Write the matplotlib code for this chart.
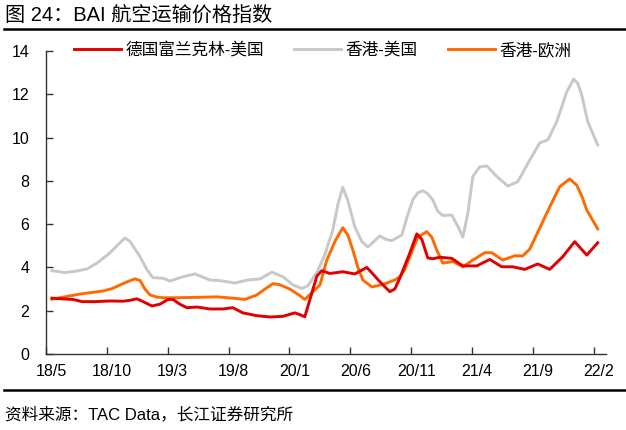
import matplotlib
matplotlib.use("Agg")
import matplotlib.pyplot as plt
import matplotlib.transforms as mtransforms
from matplotlib.lines import Line2D

plt.rcParams['font.family'] = ['Liberation Sans', 'Noto Sans CJK SC', 'DejaVu Sans']

# x: months since 2018-05
tick_labels = ['18/5', '18/10', '19/3', '19/8', '20/1', '20/6', '20/11', '21/4', '21/9', '22/2']
tick_months = [0, 5, 10, 15, 20, 25, 30, 35, 40, 45]

series_names = ['德国富兰克林-美国', '香港-美国', '香港-欧洲']

red_x = [0.49, 1.31, 2.22, 2.96, 4.02, 5.25, 6.32, 6.90, 7.47, 8.05, 8.70, 9.36, 10.02, 10.43,
         11.00, 11.58, 12.40, 13.46, 14.53, 15.35, 16.17, 17.32, 18.39, 19.46, 20.44, 20.85,
         21.26, 21.67, 22.25, 22.66, 23.32, 24.38, 25.37, 25.86, 26.35, 26.85, 27.42, 28.24,
         28.65, 29.06, 29.89, 30.46, 30.87, 31.36, 31.77, 32.35, 33.33, 34.24, 35.39, 36.45,
         37.44, 38.34, 39.33, 40.39, 41.38, 42.45, 43.43, 44.42, 45.32]
red_y = [2.58, 2.55, 2.52, 2.42, 2.42, 2.45, 2.44, 2.48, 2.55, 2.40, 2.22, 2.30, 2.52, 2.52,
         2.30, 2.14, 2.17, 2.08, 2.08, 2.14, 1.90, 1.77, 1.71, 1.74, 1.90, 1.82,
         1.72, 2.50, 3.60, 3.85, 3.72, 3.80, 3.70, 3.85, 4.00, 3.70, 3.34, 2.88,
         3.00, 3.50, 4.67, 5.55, 5.30, 4.44, 4.40, 4.47, 4.42, 4.07, 4.07, 4.37,
         4.03, 4.03, 3.91, 4.16, 3.91, 4.50, 5.19, 4.57, 5.14]

gray_x = [0.49, 1.56, 2.38, 3.37, 4.19, 5.25, 5.91, 6.49, 6.90, 7.72, 8.29, 8.78, 9.61, 10.18,
          11.25, 12.23, 13.46, 14.29, 15.52, 16.58, 17.57, 18.56, 19.46, 20.28, 21.02, 21.51,
          22.33, 22.91, 23.56, 23.97, 24.38, 24.79, 25.37, 25.94, 26.44, 26.93, 27.42, 27.91,
          28.41, 29.23, 29.64, 30.13, 30.54, 30.95, 31.36, 31.77, 32.18, 32.59, 33.33, 33.83,
          34.24, 34.65, 35.06, 35.63, 36.21, 37.03, 37.93, 38.75, 39.74, 40.56, 41.22, 41.95,
          42.78, 43.35, 43.68, 44.01, 44.50, 45.32]
gray_y = [3.85, 3.76, 3.82, 3.93, 4.20, 4.67, 5.05, 5.36, 5.20, 4.50, 3.90, 3.53, 3.50, 3.37,
          3.57, 3.70, 3.42, 3.39, 3.28, 3.42, 3.47, 3.78, 3.57, 3.19, 3.03, 3.15,
          3.85, 4.60, 5.73, 6.90, 7.70, 7.10, 5.87, 5.20, 4.94, 5.20, 5.45, 5.30,
          5.24, 5.50, 6.30, 7.12, 7.45, 7.55, 7.40, 7.12, 6.60, 6.40, 6.42, 5.90,
          5.40, 6.50, 8.20, 8.65, 8.69, 8.20, 7.76, 7.96, 8.96, 9.76, 9.89, 10.73,
          12.12, 12.70, 12.50, 11.97, 10.73, 9.66]

orange_x = [0.49, 1.64, 2.79, 4.68, 5.42, 6.08, 6.73, 7.31, 7.72, 8.13, 8.54, 9.11, 9.61, 10.76,
            12.64, 14.04, 15.35, 16.34, 17.32, 17.98, 18.64, 19.21, 20.03, 20.85, 21.26, 21.92,
            22.50, 23.07, 23.73, 24.38, 24.79, 25.21, 25.62, 26.03, 26.77, 27.42, 27.99, 28.65,
            29.06, 29.47, 29.89, 30.54, 31.28, 31.69, 32.10, 32.59, 33.42, 34.24, 35.06, 36.04,
            36.62, 37.52, 38.51, 39.16, 39.74, 40.56, 41.38, 42.20, 43.02, 43.60, 44.01, 44.42,
            45.32]
orange_y = [2.53, 2.65, 2.77, 2.91, 3.02, 3.19, 3.35, 3.47, 3.40, 3.00, 2.73, 2.63, 2.60, 2.60,
            2.62, 2.64, 2.58, 2.52, 2.73, 3.00, 3.25, 3.20, 3.00, 2.70, 2.52, 2.88,
            3.19, 4.34, 5.20, 5.84, 5.50, 4.80, 4.00, 3.42, 3.10, 3.18, 3.28, 3.42,
            3.57, 3.90, 4.50, 5.40, 5.65, 5.40, 4.80, 4.20, 4.27, 4.03, 4.34, 4.68,
            4.68, 4.34, 4.54, 4.53, 4.85, 5.82, 6.80, 7.73, 8.09, 7.80, 7.30, 6.65,
            5.78]

colors = ['#E00000', '#C8C8C8', '#FF6A00']

W, H = 626, 430
fig = plt.figure(figsize=(W / 100, H / 100), dpi=100)
ax = fig.add_axes([46 / W, 1 - 354 / H, (606 - 46) / W, (354 - 51) / H])

lw = 2.1
l1, = ax.plot(red_x, red_y, color=colors[0], lw=lw, solid_joinstyle='round', zorder=4)
l2, = ax.plot(gray_x, gray_y, color=colors[1], lw=lw, solid_joinstyle='round', zorder=2)
l3, = ax.plot(orange_x, orange_y, color=colors[2], lw=lw, solid_joinstyle='round', zorder=3)

ax.set_xlim(0, 46.0)
ax.set_ylim(0, 14)
ax.set_yticks(range(0, 15, 2))
ax.set_xticks(tick_months)
ax.set_xticklabels(tick_labels)
for s in ['top', 'right']:
    ax.spines[s].set_visible(False)
for s in ['left', 'bottom']:
    ax.spines[s].set_color('#333333')
    ax.spines[s].set_linewidth(1.0)
ax.tick_params(axis='both', direction='in', length=5, width=1, color='#333333',
               labelsize=11.5, labelcolor='black')
ax.tick_params(axis='y', pad=12)
ax.tick_params(axis='x', pad=7)
offset = mtransforms.ScaledTranslation(5 / 100, 0, fig.dpi_scale_trans)
for lab in ax.get_xticklabels():
    lab.set_transform(lab.get_transform() + offset)

leg = fig.legend([l1, l2, l3], series_names, loc='center left',
                 bbox_to_anchor=(74 / W, 1 - 50 / H), ncol=3, frameon=False,
                 fontsize=12, handlelength=2.8, handletextpad=0.3, columnspacing=1.8,
                 borderpad=0, borderaxespad=0)

fig.text(5 / W, 1 - 15 / H, '图 24：BAI 航空运输价格指数', fontsize=14.5, va='center', ha='left')
fig.add_artist(Line2D([4 / W, 1], [1 - 29 / H, 1 - 29 / H], color='black', lw=1.8,
                      transform=fig.transFigure))
fig.add_artist(Line2D([4 / W, 1], [1 - 390 / H, 1 - 390 / H], color='black', lw=1.8,
                      transform=fig.transFigure))
fig.text(5 / W, 1 - 414 / H, '资料来源：TAC Data，长江证券研究所', fontsize=12, va='center', ha='left')

fig.savefig('out.png', dpi=100)
